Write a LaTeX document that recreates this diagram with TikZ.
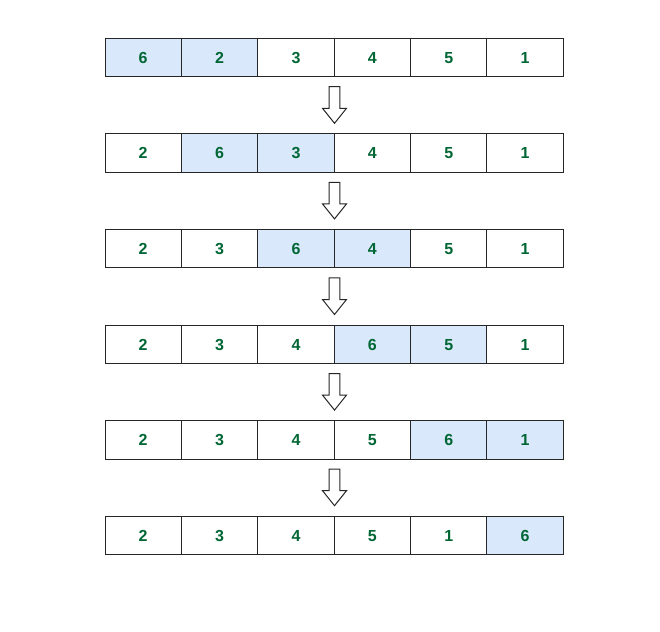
\documentclass[tikz,border=0pt]{standalone}
\usepackage{fontspec}
\setmainfont{Liberation Sans}
\definecolor{cellblue}{HTML}{DAE8FC}
\definecolor{numgreen}{HTML}{006633}
\begin{document}
\begin{tikzpicture}[x=1pt,y=-1pt,
  cell/.style={draw=black!85, line width=1pt, minimum width=76.38pt, minimum height=38.4pt,
    inner sep=0pt, outer sep=0pt, text height=11.5pt, text depth=0pt,
    font=\bfseries\fontsize{16}{16}\selectfont, text=numgreen, anchor=north west},
  hl/.style={fill=cellblue},
  hollowarrow/.style={draw=black!85, line width=1pt, fill=white, line join=miter}]
\useasboundingbox (0,0) rectangle (660,631);
\foreach \r/\vals/\hla/\hlb in {1/{6,2,3,4,5,1}/1/2, 2/{2,6,3,4,5,1}/2/3, 3/{2,3,6,4,5,1}/3/4,
    4/{2,3,4,6,5,1}/4/5, 5/{2,3,4,5,6,1}/5/6, 6/{2,3,4,5,1,6}/6/6} {
  \foreach \v [count=\c] in \vals {
    \pgfmathtruncatemacro{\ishl}{(\c==\hla)||(\c==\hlb)}
    \ifnum\ishl=1
      \node[cell,hl] (c\r\c) at ({105+(\c-1)*76.38},{38.3+(\r-1)*95.6}) {\v};
    \else
      \node[cell] (c\r\c) at ({105+(\c-1)*76.38},{38.3+(\r-1)*95.6}) {\v};
    \fi
  }
}
\foreach \r in {1,...,5} {
  \coordinate (a\r) at (334.5,{38.3+(\r-1)*95.6+38.4});
  \draw[hollowarrow, shift={(a\r)}] (-5.3,10) -- (5.3,10) -- (5.3,31.6) -- (12,31.6) -- (0,46.6)
    -- (-12,31.6) -- (-5.3,31.6) -- cycle;
}
\end{tikzpicture}
\end{document}
